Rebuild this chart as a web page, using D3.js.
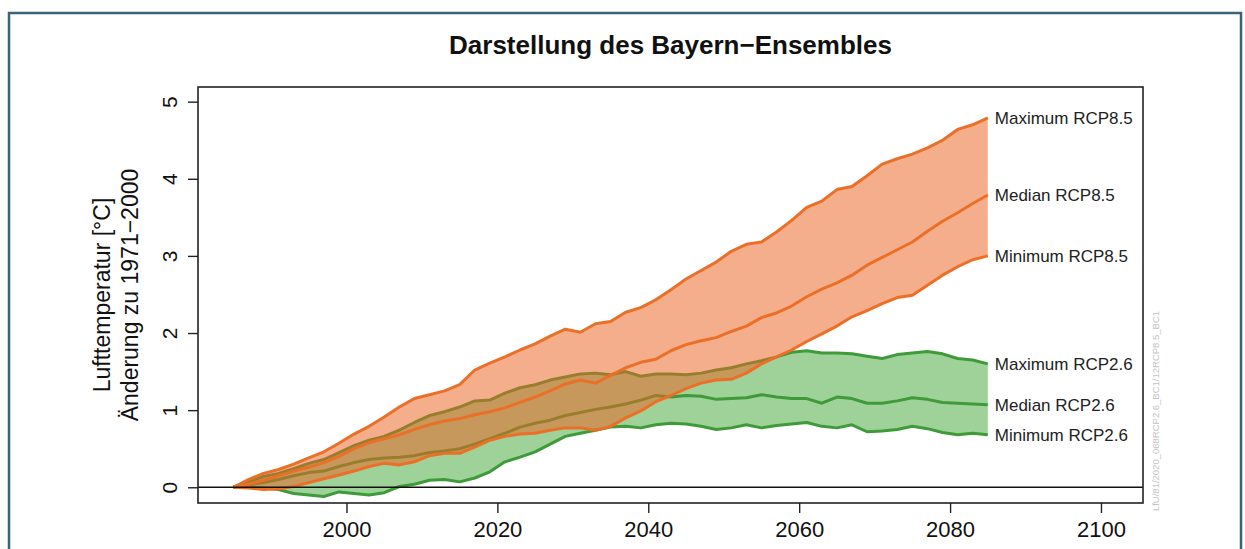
<!DOCTYPE html>
<html>
<head>
<meta charset="utf-8">
<script src="https://cdn.jsdelivr.net/npm/d3@7"></script>
<style>
  html, body { margin: 0; padding: 0; background: #fff; }
  svg { display: block; font-family: "Liberation Sans", Arial, Helvetica, sans-serif; }
</style>
</head>
<body>
<svg id="chart" width="1245" height="549"></svg>
<script>
// ---- data ----
const years = [1985,1987,1989,1991,1993,1995,1997,1999,2001,2003,2005,2007,2009,2011,2013,2015,2017,2019,2021,2023,2025,2027,2029,2031,2033,2035,2037,2039,2041,2043,2045,2047,2049,2051,2053,2055,2057,2059,2061,2063,2065,2067,2069,2071,2073,2075,2077,2079,2081,2083,2085];

const rcp85Max = [0,0.10,0.18,0.23,0.30,0.38,0.46,0.57,0.69,0.79,0.91,1.04,1.15,1.20,1.25,1.33,1.52,1.61,1.69,1.78,1.86,1.96,2.05,2.01,2.12,2.15,2.27,2.33,2.43,2.56,2.70,2.81,2.92,3.06,3.15,3.18,3.31,3.46,3.63,3.71,3.86,3.90,4.04,4.19,4.26,4.32,4.40,4.50,4.64,4.70,4.79];
const rcp85Med = [0,0.04,0.09,0.15,0.21,0.26,0.32,0.40,0.50,0.58,0.63,0.68,0.75,0.81,0.86,0.89,0.94,0.98,1.03,1.10,1.17,1.25,1.34,1.39,1.35,1.45,1.55,1.62,1.66,1.77,1.85,1.90,1.94,2.02,2.09,2.20,2.26,2.35,2.47,2.57,2.65,2.75,2.88,2.98,3.08,3.18,3.32,3.45,3.56,3.68,3.79];
const rcp85Min = [0,-0.01,-0.03,-0.02,0.01,0.06,0.11,0.16,0.21,0.27,0.31,0.29,0.33,0.41,0.44,0.44,0.52,0.61,0.66,0.69,0.70,0.74,0.77,0.77,0.74,0.79,0.90,0.99,1.11,1.19,1.28,1.35,1.39,1.40,1.48,1.60,1.69,1.78,1.89,1.99,2.09,2.21,2.29,2.38,2.46,2.49,2.62,2.75,2.86,2.95,3.00];

const rcp26Max = [0,0.07,0.14,0.18,0.24,0.31,0.36,0.45,0.54,0.61,0.66,0.74,0.84,0.93,0.98,1.04,1.12,1.13,1.22,1.29,1.33,1.39,1.43,1.47,1.48,1.46,1.50,1.44,1.47,1.47,1.46,1.48,1.52,1.55,1.60,1.64,1.69,1.75,1.77,1.74,1.74,1.73,1.70,1.67,1.72,1.74,1.76,1.73,1.67,1.65,1.60];
const rcp26Med = [0,0.03,0.06,0.10,0.15,0.19,0.21,0.27,0.32,0.36,0.38,0.39,0.41,0.45,0.47,0.50,0.56,0.63,0.70,0.78,0.83,0.87,0.93,0.97,1.01,1.04,1.08,1.13,1.19,1.17,1.19,1.18,1.14,1.15,1.16,1.20,1.17,1.15,1.15,1.09,1.17,1.15,1.09,1.09,1.12,1.16,1.14,1.10,1.09,1.08,1.07];
const rcp26Min = [0,0.00,-0.01,-0.03,-0.08,-0.10,-0.12,-0.06,-0.08,-0.10,-0.07,0.01,0.04,0.09,0.10,0.07,0.12,0.20,0.33,0.39,0.46,0.56,0.66,0.70,0.74,0.78,0.79,0.77,0.81,0.83,0.82,0.79,0.75,0.77,0.81,0.77,0.80,0.82,0.84,0.79,0.77,0.81,0.72,0.73,0.75,0.79,0.76,0.71,0.68,0.70,0.68];

const xTicks = [2000,2020,2040,2060,2080,2100];
const yTicks = [0,1,2,3,4,5];
const seriesLabels = ["Maximum RCP8.5","Median RCP8.5","Minimum RCP8.5","Maximum RCP2.6","Median RCP2.6","Minimum RCP2.6"];
const titleText = "Darstellung des Bayern\u2212Ensembles";
const yLabel1 = "Lufttemperatur [\u00B0C]";
const yLabel2 = "\u00C4nderung zu 1971\u22122000";
const sideNote = "LfU/81/2020_068RCP2.6_BC1/12RCP8.5_BC1";

// ---- layout ----
const svg = d3.select("#chart");
const box = {left: 198, right: 1143, top: 87, bottom: 503};

const x = d3.scaleLinear().domain([1980.32, 2105.57]).range([box.left, box.right]);
const y = d3.scaleLinear().domain([-0.204, 5.19]).range([box.bottom, box.top]);

// outer frame
svg.append("rect").attr("x", 9).attr("y", 13).attr("width", 1232).attr("height", 600)
  .attr("fill", "none").attr("stroke", "#3b6479").attr("stroke-width", 2.5);

// title
svg.append("text").attr("x", (box.left + box.right) / 2).attr("y", 54)
  .attr("text-anchor", "middle").attr("font-weight", "bold").attr("font-size", 26)
  .attr("fill", "#111").text(titleText);

const green = {fill: "rgba(62,166,52,0.5)", line: "#3f9a39"};
const orange = {fill: "rgba(236,100,34,0.52)", line: "#ec6f27"};

const area = (lo, hi) => d3.area()
  .x((d, i) => x(years[i]))
  .y0((d, i) => y(lo[i]))
  .y1((d, i) => y(hi[i]))(years);
const line = vals => d3.line().x((d, i) => x(years[i])).y(d => y(d))(vals);

const g = svg.append("g");
// RCP2.6 band
g.append("path").attr("d", area(rcp26Min, rcp26Max)).attr("fill", green.fill);
[rcp26Max, rcp26Med, rcp26Min].forEach(v =>
  g.append("path").attr("d", line(v)).attr("fill", "none")
    .attr("stroke", green.line).attr("stroke-width", 3).attr("stroke-linejoin", "round"));
// RCP8.5 band
g.append("path").attr("d", area(rcp85Min, rcp85Max)).attr("fill", orange.fill);
[rcp85Max, rcp85Med, rcp85Min].forEach(v =>
  g.append("path").attr("d", line(v)).attr("fill", "none")
    .attr("stroke", orange.line).attr("stroke-width", 3).attr("stroke-linejoin", "round"));

// zero line
svg.append("line").attr("x1", box.left).attr("x2", box.right)
  .attr("y1", y(0)).attr("y2", y(0)).attr("stroke", "#111").attr("stroke-width", 1.6);

// plot box
svg.append("rect").attr("x", box.left).attr("y", box.top)
  .attr("width", box.right - box.left).attr("height", box.bottom - box.top)
  .attr("fill", "none").attr("stroke", "#222").attr("stroke-width", 1.6);

// x axis
const xAxis = svg.append("g").attr("transform", `translate(0,${box.bottom})`)
  .call(d3.axisBottom(x).tickValues(xTicks).tickFormat(d3.format("d")).tickSize(10).tickPadding(8));
xAxis.select(".domain").remove();
xAxis.selectAll("line").attr("stroke", "#222").attr("stroke-width", 1.4);
xAxis.selectAll("text").attr("font-size", 22).attr("fill", "#111")
  .attr("font-family", "'Liberation Sans', Arial, sans-serif").attr("dy", "0.71em");

// y axis
const yAxis = svg.append("g").attr("transform", `translate(${box.left},0)`)
  .call(d3.axisLeft(y).tickValues(yTicks).tickFormat(d3.format("d")).tickSize(10));
yAxis.select(".domain").remove();
yAxis.selectAll("line").attr("stroke", "#222").attr("stroke-width", 1.4);
yAxis.selectAll("text").remove();
yAxis.selectAll(".tick").append("text")
  .attr("transform", "translate(-21,0) rotate(-90)")
  .attr("text-anchor", "middle").attr("font-size", 21).attr("fill", "#111")
  .attr("font-family", "'Liberation Sans', Arial, sans-serif")
  .text(d => d3.format("d")(d));

// y axis title (two lines)
const yc = (box.top + box.bottom) / 2;
svg.append("text").attr("transform", `translate(110,${yc}) rotate(-90)`)
  .attr("text-anchor", "middle").attr("font-size", 23).attr("fill", "#111").text(yLabel1);
svg.append("text").attr("transform", `translate(138,${yc}) rotate(-90)`)
  .attr("text-anchor", "middle").attr("font-size", 23).attr("fill", "#111").text(yLabel2);

// series end labels
const lastVals = [rcp85Max, rcp85Med, rcp85Min, rcp26Max, rcp26Med, rcp26Min].map(v => v[v.length - 1]);
const lastYear = years[years.length - 1];
svg.append("g").selectAll("text").data(seriesLabels).join("text")
  .attr("x", x(lastYear) + 7)
  .attr("y", (d, i) => y(lastVals[i]))
  .attr("dy", "0.35em")
  .attr("font-size", 17).attr("fill", "#222")
  .text(d => d);

// side note
svg.append("text").attr("transform", `translate(1159,411) rotate(-90)`)
  .attr("text-anchor", "middle").attr("font-size", 9.5).attr("fill", "#c4c4c4").text(sideNote);
</script>
</body>
</html>
